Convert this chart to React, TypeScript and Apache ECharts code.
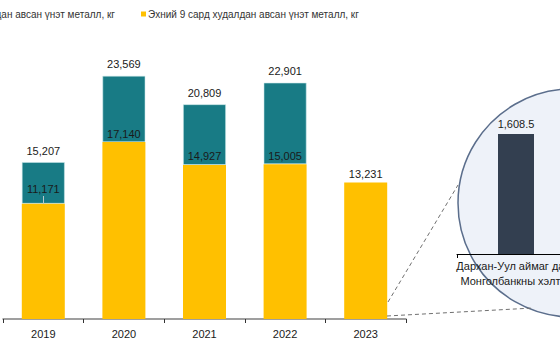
import React, { useEffect, useRef } from "react";
import * as echarts from "echarts";

const years = ["2019", "2020", "2021", "2022", "2023"];
const totalKg = [15207, 23569, 20809, 22901, null];
const nineMonthKg = [11171, 17140, 14927, 15005, 13231];
const insetCategories = ["Дархан-Уул аймаг дахь\nМонголбанкны хэлтэс"];
const insetValues = [1608.5];

const totalName = "Нийт худалдан авсан үнэт металл, кг";
const nineName = "Эхний 9 сард худалдан авсан үнэт металл, кг";

const FONT = "'Liberation Sans', Arial, sans-serif";
const YELLOW = "#FFC000";
const TEAL = "#187B85";
const LABEL = "#1a1a1a";
const fmt = (v: number, d = 0) =>
  v.toLocaleString("en-US", { minimumFractionDigits: d, maximumFractionDigits: d });

export default function App() {
  const ref = useRef<HTMLDivElement>(null);
  useEffect(() => {
    const chart = echarts.init(ref.current!, null, { renderer: "svg" });
    const remainder = totalKg.map((t, i) => (t == null ? "-" : t - nineMonthKg[i]));
    const nineData = nineMonthKg.map((v, i) =>
      i === 0 ? { value: v, label: { distance: 9 } } : v
    );
    chart.setOption({
      animation: false,
      textStyle: { fontFamily: FONT },
      grid: [
        { left: 3, right: 154, top: 61, bottom: 41, outerBoundsMode: "none", containLabel: false },
        { left: 457, width: 118, top: 104.8, height: 149.2, outerBoundsMode: "none", containLabel: false },
      ],
      xAxis: [
        {
          type: "category",
          gridIndex: 0,
          data: years,
          axisLine: { lineStyle: { color: "#808080", width: 1.5 } },
          axisTick: { show: true, length: 4, lineStyle: { color: "#333" } },
          axisLabel: { color: LABEL, fontSize: 11, margin: 9, fontFamily: FONT },
        },
        {
          type: "category",
          gridIndex: 1,
          data: insetCategories,
          axisLine: { lineStyle: { color: "#000", width: 1 } },
          axisTick: { show: true, length: 4, lineStyle: { color: "#000" } },
          axisLabel: { color: LABEL, fontSize: 11, lineHeight: 15, margin: 4, fontFamily: FONT },
        },
      ],
      yAxis: [
        { type: "value", gridIndex: 0, min: 0, max: 25000, show: false },
        { type: "value", gridIndex: 1, min: 0, max: 2000, show: false },
      ],
      graphic: [
        {
          type: "circle",
          z: -5,
          shape: { cx: 572, cy: 203, r: 114 },
          style: { fill: "#EEF2F9", stroke: "#5B6E8C", lineWidth: 1.5 },
        },
        {
          type: "line",
          z: 5,
          shape: { x1: 388, y1: 302, x2: 458, y2: 185 },
          style: { stroke: "#707070", lineWidth: 1, lineDash: [4, 3] },
        },
        {
          type: "line",
          z: 5,
          shape: { x1: 387, y1: 316, x2: 533, y2: 308 },
          style: { stroke: "#707070", lineWidth: 1, lineDash: [4, 3] },
        },
        {
          type: "line",
          z: 5,
          shape: { x1: 43.5, y1: 196, x2: 43.5, y2: 204 },
          style: { stroke: "#b8c8cc", lineWidth: 1 },
        },
        {
          type: "rect",
          shape: { x: -130, y: 11, width: 5, height: 5 },
          style: { fill: TEAL },
        },
        {
          type: "text",
          x: 115,
          y: 14,
          style: {
            text: totalName,
            align: "right",
            verticalAlign: "middle",
            fill: "#333",
            fontSize: 10,
            fontFamily: FONT,
          },
        },
        {
          type: "rect",
          shape: { x: 141, y: 11.5, width: 5, height: 5 },
          style: { fill: YELLOW },
        },
        {
          type: "text",
          x: 148,
          y: 14,
          style: {
            text: nineName,
            align: "left",
            verticalAlign: "middle",
            fill: "#333",
            fontSize: 10,
            fontFamily: FONT,
          },
        },
      ],
      series: [
        {
          name: nineName,
          type: "bar",
          stack: "a",
          xAxisIndex: 0,
          yAxisIndex: 0,
          barWidth: 43,
          data: nineData,
          itemStyle: { color: YELLOW },
          z: 3,
          label: {
            show: true,
            position: "top",
            distance: 3,
            color: LABEL,
            fontSize: 11,
            fontFamily: FONT,
            formatter: (p: any) => fmt(p.value),
          },
        },
        {
          name: totalName,
          type: "bar",
          stack: "a",
          xAxisIndex: 0,
          yAxisIndex: 0,
          barWidth: 43,
          data: remainder,
          itemStyle: { color: TEAL, borderColor: "rgba(200,230,232,0.7)", borderWidth: 0.8 },
          z: 2,
          label: {
            show: true,
            position: "top",
            distance: 6,
            color: LABEL,
            fontSize: 11,
            fontFamily: FONT,
            formatter: (p: any) => (totalKg[p.dataIndex] == null ? "" : fmt(totalKg[p.dataIndex] as number)),
          },
        },
        {
          name: "inset",
          type: "bar",
          xAxisIndex: 1,
          yAxisIndex: 1,
          barWidth: 36,
          data: insetValues,
          itemStyle: { color: "#333F50" },
          label: {
            show: true,
            position: "top",
            distance: 5,
            color: LABEL,
            fontSize: 11,
            fontFamily: FONT,
            formatter: (p: any) => fmt(p.value, 1),
          },
        },
      ],
    });
    return () => chart.dispose();
  }, []);
  return (
    <div
      ref={ref}
      style={{ position: "fixed", left: 0, top: 0, width: 560, height: 360, background: "#fff" }}
    />
  );
}
